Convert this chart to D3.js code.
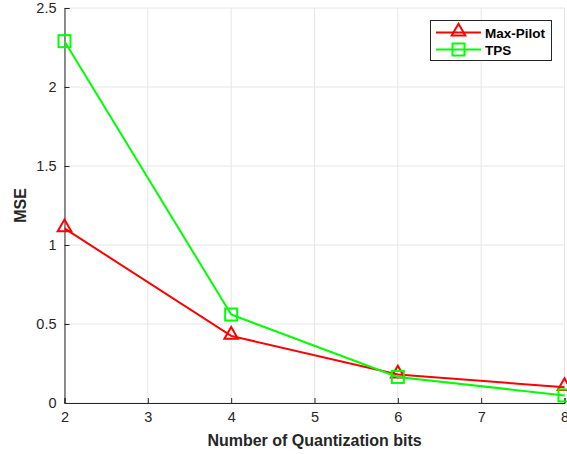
<!DOCTYPE html>
<html>
<head>
<meta charset="utf-8">
<script src="https://cdn.jsdelivr.net/npm/d3@7"></script>
<style>
  body { margin: 0; background: #fff; }
  text { font-family: "Liberation Sans", Arial, sans-serif; }
</style>
</head>
<body>
<svg id="chart" width="567" height="454"></svg>
<script>
// chart data
var bits = [2, 4, 6, 8];
var maxPilot = [1.105, 0.425, 0.18, 0.1];
var tps = [2.29, 0.56, 0.165, 0.048];
var xTicks = [2, 3, 4, 5, 6, 7, 8];
var yTicks = [0, 0.5, 1, 1.5, 2, 2.5];
var seriesNames = ["Max-Pilot", "TPS"];
var seriesColors = ["#ff0000", "#00ff00"];

var svg = d3.select("#chart");
var margin = { left: 64.5, right: 2.5, top: 8, bottom: 51 };
var width = 567 - margin.left - margin.right;
var height = 454 - margin.top - margin.bottom;

var x = d3.scaleLinear().domain([2, 8]).range([margin.left, margin.left + width]);
var y = d3.scaleLinear().domain([0, 2.5]).range([margin.top + height, margin.top]);

// grid
var grid = svg.append("g").attr("class", "grid");
grid.selectAll(".vgrid").data(xTicks).enter().append("line")
    .attr("x1", function (d) { return x(d); })
    .attr("x2", function (d) { return x(d); })
    .attr("y1", y(0)).attr("y2", y(2.5))
    .style("stroke", "#e6e6e6").attr("stroke-width", 1);
grid.selectAll(".hgrid").data(yTicks).enter().append("line")
    .attr("y1", function (d) { return y(d); })
    .attr("y2", function (d) { return y(d); })
    .attr("x1", x(2)).attr("x2", x(8))
    .style("stroke", "#e6e6e6").attr("stroke-width", 1);

// axes
var xAxis = d3.axisBottom(x).tickValues(xTicks).tickSize(-5).tickPadding(9)
    .tickFormat(d3.format("d"));
var yAxis = d3.axisLeft(y).tickValues(yTicks).tickSize(-5).tickPadding(8)
    .tickFormat(function (d) { return d; });

function styleAxis(g) {
    g.select(".domain").style("stroke", "#262626").attr("stroke-width", 1);
    g.selectAll(".tick line").style("stroke", "#262626");
    g.selectAll(".tick text").style("fill", "#262626").style("font-size", "14.5px")
        .style("font-family", "Liberation Sans, Arial, sans-serif");
}

svg.append("g").attr("transform", "translate(0," + y(0) + ")").call(xAxis).call(styleAxis);
svg.append("g").attr("transform", "translate(" + x(2) + ",0)").call(yAxis).call(styleAxis);

// axis labels
svg.append("text")
    .attr("x", (x(2) + x(8)) / 2).attr("y", 446)
    .attr("text-anchor", "middle")
    .style("font-size", "16px").style("font-weight", "bold").style("fill", "#262626")
    .text("Number of Quantization bits");
svg.append("text")
    .attr("transform", "translate(26," + ((y(0) + y(2.5)) / 2) + ") rotate(-90)")
    .attr("text-anchor", "middle")
    .style("font-size", "16px").style("font-weight", "bold").style("fill", "#262626")
    .text("MSE");

// series
var series = [maxPilot, tps];
var line = d3.line()
    .x(function (d, i) { return x(bits[i]); })
    .y(function (d) { return y(d); });

var triangle = d3.symbol().type(d3.symbolTriangle).size(80);

function drawMarker(g, kind, color, cx, cy) {
    if (kind === 0) {
        g.append("path")
            .attr("d", triangle())
            .attr("transform", "translate(" + cx + "," + (cy - 1) + ")")
            .attr("fill", "none").attr("stroke", color).attr("stroke-width", 2);
    } else {
        g.append("rect")
            .attr("x", cx - 6).attr("y", cy - 6)
            .attr("width", 12).attr("height", 12)
            .attr("fill", "none").attr("stroke", color).attr("stroke-width", 2);
    }
}

var plot = svg.append("g").attr("class", "series");
series.forEach(function (vals, k) {
    plot.append("path")
        .datum(vals)
        .attr("d", line)
        .attr("fill", "none")
        .attr("stroke", seriesColors[k])
        .attr("stroke-width", 2);
    vals.forEach(function (v, i) {
        drawMarker(plot, k, seriesColors[k], x(bits[i]), y(v));
    });
});

// legend
var legend = svg.append("g").attr("class", "legend");
legend.append("rect")
    .attr("x", 430.5).attr("y", 20.5).attr("width", 121).attr("height", 40)
    .attr("fill", "#fff").attr("stroke", "#262626").attr("stroke-width", 1);
seriesNames.forEach(function (name, k) {
    var ly = 32.5 + k * 17;
    legend.append("line")
        .attr("x1", 436).attr("x2", 481).attr("y1", ly).attr("y2", ly)
        .attr("stroke", seriesColors[k]).attr("stroke-width", 2);
    drawMarker(legend, k, seriesColors[k], 458.5, ly);
    legend.append("text")
        .attr("x", 485).attr("y", ly + 5)
        .style("font-size", "13.5px").style("font-weight", "bold").style("fill", "#000")
        .text(name);
});
</script>
</body>
</html>
